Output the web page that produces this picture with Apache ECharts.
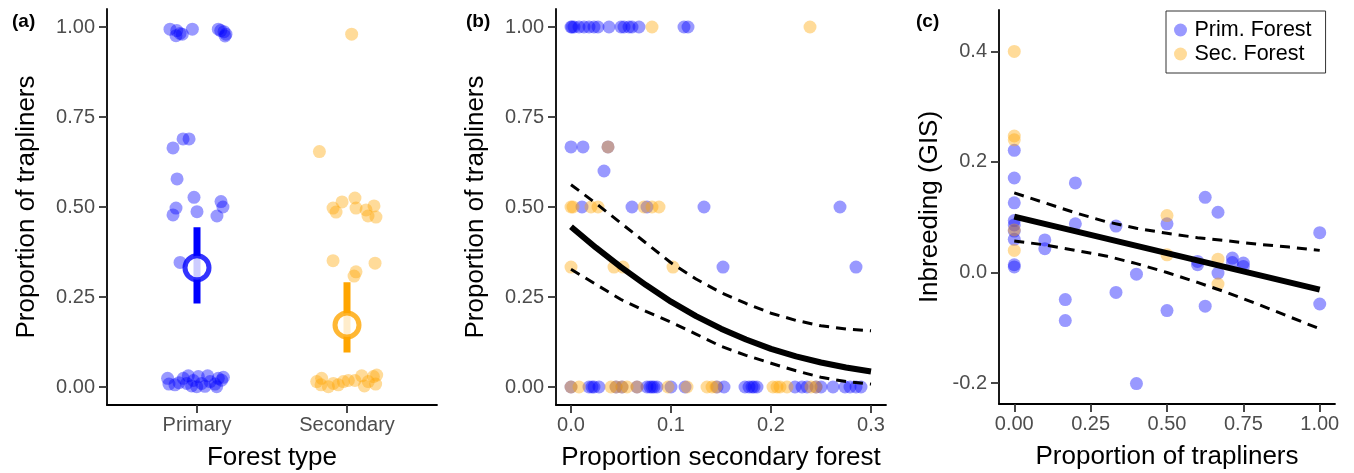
<!DOCTYPE html>
<html><head><meta charset="utf-8">
<script src="https://cdn.jsdelivr.net/npm/echarts@6/dist/echarts.min.js"></script>
<style>html,body{margin:0;padding:0;background:#fff}#c{width:1354px;height:473px}</style>
</head><body><div id="c"></div>
<script>
// ---------- DATA ----------
const forestCats = ['Primary', 'Secondary'];
const propTicks = [0, 0.25, 0.5, 0.75, 1];
const secTicks = [0, 0.1, 0.2, 0.3];
const inbreedTicks = [-0.2, 0, 0.2, 0.4];
const traplinerTicks = [0, 0.25, 0.5, 0.75, 1];

// panel (a): jittered points [category position (1 = Primary, 2 = Secondary), proportion]
const aPrimPts = [
  [0.82,0.994],[0.865,0.990],[0.86,0.976],[0.887,0.982],[0.902,0.980],[0.969,0.994],
  [1.142,0.994],[1.158,0.990],[1.18,0.987],[1.193,0.980],[1.187,0.975],
  [0.907,0.689],[0.947,0.689],[0.84,0.664],[0.867,0.578],[0.98,0.527],
  [1.16,0.515],[1.173,0.500],[0.86,0.497],[0.84,0.478],[1.0,0.487],[1.133,0.475],
  [0.887,0.346],
  [0.804,0.024],[0.813,0.008],[0.88,0.012],[0.909,0.024],[0.942,0.031],[0.931,0.010],
  [0.976,0.018],[0.998,0.001],[1.009,0.029],[1.031,0.010],[1.053,0.002],[1.071,0.031],
  [1.087,0.015],[1.12,0.008],[1.142,0.024],[1.164,0.019],[1.176,0.027],[1.131,0.001],
  [0.853,0.006],[0.964,0.003]
];
const aSecPts = [
  [2.031,0.980],[1.816,0.654],
  [1.907,0.497],[1.927,0.486],[1.967,0.514],[2.053,0.525],[2.06,0.497],[2.127,0.492],
  [2.14,0.475],[2.18,0.503],[2.193,0.472],
  [1.907,0.351],[2.06,0.320],[2.047,0.308],[2.187,0.344],
  [1.798,0.015],[1.827,0.006],[1.876,0.001],[1.909,0.010],[1.942,0.006],[1.976,0.015],
  [2.009,0.018],[2.053,0.018],[2.098,0.031],[2.116,0.003],[2.142,0.015],[2.176,0.029],
  [2.191,0.008],[2.198,0.033],[1.831,0.024]
];
const aMeans = [0.331, 0.172];
const aLower = [0.232, 0.096];
const aUpper = [0.444, 0.291];

// panel (b): [proportion secondary forest, proportion of trapliners]
const bPrimPts = [
  [0.000,0],[0.018,0],[0.021,0],[0.023,0],[0.028,0],[0.045,0],[0.051,0],[0.066,0],[0.076,0],
  [0.079,0],[0.081,0],[0.083,0],[0.086,0],[0.100,0],[0.114,0],[0.146,0],[0.153,0],[0.174,0],
  [0.178,0],[0.181,0],[0.183,0],[0.186,0],[0.224,0],[0.231,0],[0.236,0],[0.245,0],[0.250,0],
  [0.262,0],[0.274,0],[0.279,0],[0.285,0],[0.290,0],
  [0.152,0.333],[0.285,0.333],
  [0.011,0.5],[0.061,0.5],[0.076,0.5],[0.133,0.5],[0.269,0.5],
  [0.033,0.6],
  [0.000,0.667],[0.012,0.667],[0.037,0.667],
  [0.000,1],[0.001,1],[0.003,1],[0.008,1],[0.013,1],[0.018,1],[0.023,1],[0.027,1],[0.038,1],
  [0.050,1],[0.053,1],[0.058,1],[0.061,1],[0.068,1],[0.113,1],[0.117,1]
];
const bSecPts = [
  [0.000,0],[0.008,0],[0.040,0],[0.045,0],[0.051,0],[0.056,0],[0.066,0],[0.097,0],[0.116,0],
  [0.136,0],[0.141,0],[0.145,0],[0.202,0],[0.206,0],[0.209,0],[0.216,0],[0.240,0],[0.245,0],
  [0.000,0.333],[0.043,0.333],[0.052,0.333],[0.102,0.333],
  [0.000,0.5],[0.002,0.5],[0.020,0.5],[0.027,0.5],[0.073,0.5],[0.081,0.5],[0.088,0.5],
  [0.037,0.667],
  [0.081,1],[0.239,1]
];
const bFitX = [0, 0.025, 0.05, 0.075, 0.1, 0.125, 0.15, 0.175, 0.2, 0.225, 0.25, 0.275, 0.3];
const bFit  = [0.445, 0.387, 0.333, 0.283, 0.237, 0.197, 0.162, 0.132, 0.106, 0.085, 0.068, 0.054, 0.043];
const bHi   = [0.562, 0.510, 0.455, 0.400, 0.345, 0.300, 0.262, 0.232, 0.205, 0.185, 0.170, 0.161, 0.156];
const bLo   = [0.327, 0.285, 0.243, 0.210, 0.180, 0.147, 0.113, 0.088, 0.066, 0.045, 0.027, 0.015, 0.008];

// panel (c): [proportion of trapliners, inbreeding]
const cPrimPts = [
  [0,0.221],[0,0.171],[0,0.126],[0,0.094],[0,0.086],[0,0.075],[0,0.060],[0,0.014],[0,0.010],
  [0.1,0.059],[0.1,0.043],[0.167,-0.049],[0.167,-0.087],[0.2,0.162],[0.2,0.088],
  [0.333,0.084],[0.333,-0.036],[0.4,-0.003],[0.4,-0.201],[0.5,0.088],[0.5,-0.069],
  [0.6,0.020],[0.6,0.014],[0.625,0.136],[0.625,-0.061],[0.667,0.109],[0.667,-0.001],
  [0.714,0.026],[0.714,0.018],[0.75,0.017],[0.75,0.011],[1,0.072],[1,-0.057]
];
const cSecPts = [
  [0,0.400],[0,0.247],[0,0.240],[0,0.077],[0,0.040],[0.5,0.103],[0.5,0.032],[0.667,0.024],[0.667,-0.021]
];
const cFitX = [0, 1];
const cFit = [0.101, -0.031];
const cBandX = [0, 0.1, 0.2, 0.3, 0.4, 0.5, 0.6, 0.7, 0.8, 0.9, 1];
const cHi = [0.144, 0.126, 0.108, 0.092, 0.080, 0.071, 0.063, 0.057, 0.051, 0.046, 0.040];
const cLo = [0.057, 0.050, 0.040, 0.030, 0.016, 0.000, -0.018, -0.037, -0.058, -0.080, -0.102];

// ---------- STYLE ----------
const FF = '"Liberation Sans", Arial, Helvetica, sans-serif';
const BLUE = 'rgba(0,0,255,0.5)';
const ORANGE = 'rgba(255,165,0,0.5)';
const TICK_FS = 20, TITLE_FS = 26;

function zip(xs, ys) { return xs.map((x, i) => [x, ys[i]]); }

function axis(dim, gi, min, max, ticks, fmt, name, gap) {
  return {
    type: 'value', gridIndex: gi, min: min, max: max,
    name: name, nameLocation: 'middle', nameGap: gap,
    nameTextStyle: { fontSize: TITLE_FS, color: '#000', fontFamily: FF },
    axisLine: { show: true, onZero: false, lineStyle: { color: '#000', width: 1.8 } },
    axisTick: { show: true, length: 8, customValues: ticks, lineStyle: { color: '#333', width: 1.8 } },
    axisLabel: { customValues: ticks, formatter: fmt, margin: dim === 'x' ? 10 : 12,
      fontSize: TICK_FS, color: '#4D4D4D', fontFamily: FF },
    splitLine: { show: false }
  };
}

const grids = [
  { left: 107, top: 9, width: 330, height: 396, outerBoundsMode: 'none' },
  { left: 556, top: 9, width: 330, height: 396, outerBoundsMode: 'none' },
  { left: 999, top: 10, width: 336, height: 394, outerBoundsMode: 'none' }
];

const xAxes = [
  axis('x', 0, 0.4, 2.6, [1, 2], v => forestCats[Math.round(v) - 1], 'Forest type', 40),
  axis('x', 1, -0.015, 0.315, secTicks, v => v.toFixed(1), 'Proportion secondary forest', 40),
  axis('x', 2, -0.05, 1.05, traplinerTicks, v => v.toFixed(2), 'Proportion of trapliners', 40)
];
const yAxes = [
  axis('y', 0, -0.05, 1.05, propTicks, v => v.toFixed(2), 'Proportion of trapliners', 67),
  axis('y', 1, -0.05, 1.05, propTicks, v => v.toFixed(2), 'Proportion of trapliners', 67),
  axis('y', 2, -0.238, 0.475, inbreedTicks, v => v.toFixed(1), 'Inbreeding (GIS)', 56)
];

function pts(name, gi, data, color) {
  return { type: 'scatter', name: name, xAxisIndex: gi, yAxisIndex: gi, data: data,
    symbol: 'circle', symbolSize: 13, itemStyle: { color: color, borderWidth: 0 }, z: 2, silent: true };
}
function line(gi, data, width, dash) {
  return { type: 'line', xAxisIndex: gi, yAxisIndex: gi, data: data, symbol: 'none', showSymbol: false,
    smooth: false, z: 4, silent: true,
    lineStyle: { color: '#000', width: width, type: dash ? [10, 7] : 'solid', cap: 'butt', join: 'round' } };
}

const series = [
  pts('Prim. Forest', 0, aPrimPts, BLUE),
  pts('Sec. Forest', 0, aSecPts, ORANGE),
  pts('Prim. Forest', 1, bPrimPts, BLUE),
  pts('Sec. Forest', 1, bSecPts, ORANGE),
  pts('Prim. Forest', 2, cPrimPts, BLUE),
  pts('Sec. Forest', 2, cSecPts, ORANGE),
  line(1, zip(bFitX, bFit), 6, false),
  line(1, zip(bFitX, bHi), 3, true),
  line(1, zip(bFitX, bLo), 3, true),
  line(2, zip(cFitX, cFit), 6, false),
  line(2, zip(cBandX, cHi), 3, true),
  line(2, zip(cBandX, cLo), 3, true)
];
const sumColors = ['#0000FF', '#FFA500'];
forestCats.forEach((c, i) => {
  series.push({ type: 'line', xAxisIndex: 0, yAxisIndex: 0, symbol: 'none', z: 5, silent: true,
    data: [[i + 1, aLower[i]], [i + 1, aUpper[i]]],
    lineStyle: { color: sumColors[i], width: 7, cap: 'butt' } });
  series.push({ type: 'scatter', xAxisIndex: 0, yAxisIndex: 0, z: 6, silent: true,
    data: [[i + 1, aMeans[i]]], symbol: 'circle', symbolSize: 24,
    itemStyle: { color: '#fff', borderColor: sumColors[i], borderWidth: 5 } });
});

const chart = echarts.init(document.getElementById('c'), null, { renderer: 'canvas' });
chart.setOption({
  animation: false,
  backgroundColor: '#fff',
  grid: grids, xAxis: xAxes, yAxis: yAxes, series: series,
  legend: {
    data: ['Prim. Forest', 'Sec. Forest'], orient: 'vertical', left: 1166, top: 11,
    padding: [7, 14, 7, 8], itemGap: 0, itemWidth: 18, itemHeight: 13, icon: 'circle',
    borderColor: '#333', borderWidth: 1, backgroundColor: '#fff',
    textStyle: { fontSize: 21.5, color: '#000', fontFamily: FF, lineHeight: 24 },
    selectedMode: false
  },
  graphic: [
    { type: 'text', left: 12, top: 12, style: { text: '(a)', font: 'bold 19px ' + FF, fill: '#000' } },
    { type: 'text', left: 466, top: 12, style: { text: '(b)', font: 'bold 19px ' + FF, fill: '#000' } },
    { type: 'text', left: 916, top: 12, style: { text: '(c)', font: 'bold 19px ' + FF, fill: '#000' } }
  ]
});
</script></body></html>
